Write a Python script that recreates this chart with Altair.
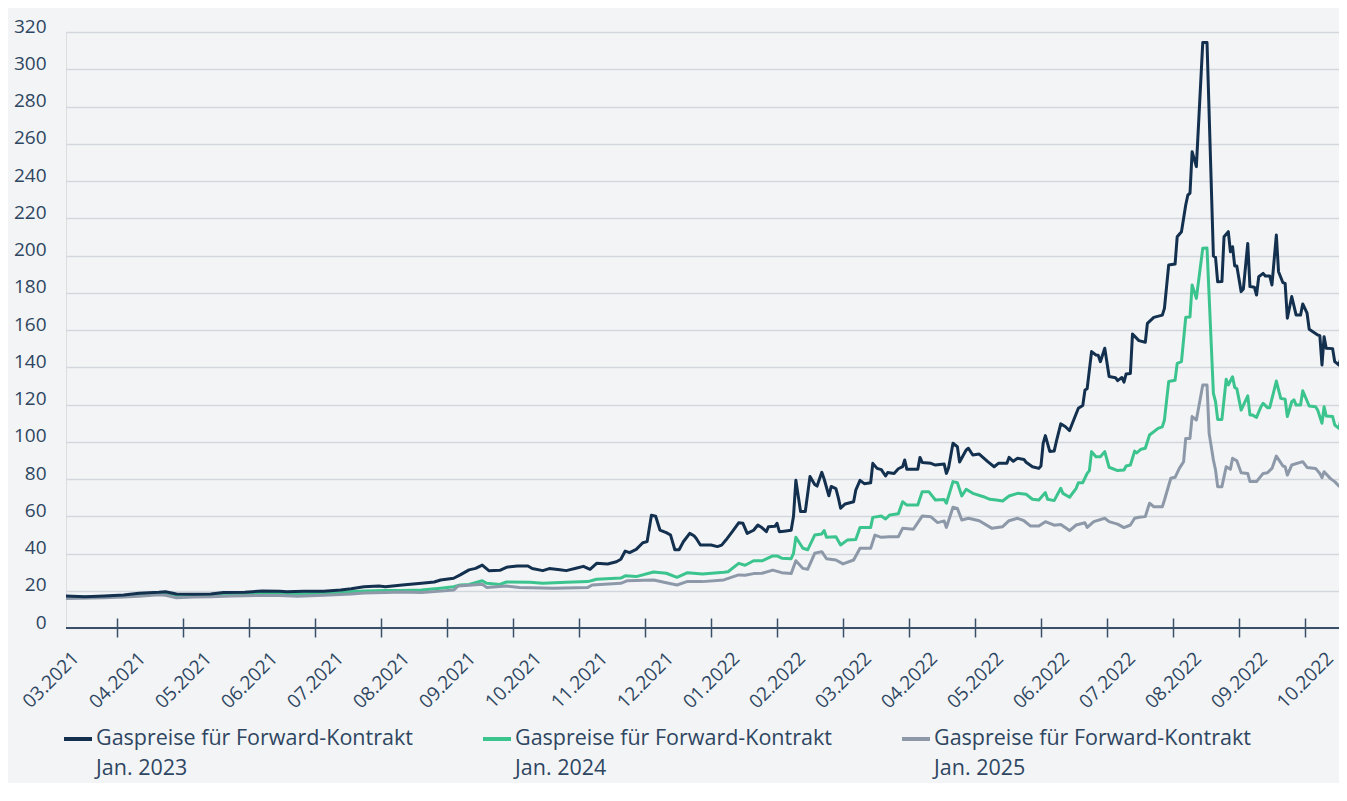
import altair as alt
import pandas as pd

# ---------------- data ----------------
month_labels = ["03.2021", "04.2021", "05.2021", "06.2021", "07.2021", "08.2021",
                "09.2021", "10.2021", "11.2021", "12.2021", "01.2022", "02.2022",
                "03.2022", "04.2022", "05.2022", "06.2022", "07.2022", "08.2022",
                "09.2022", "10.2022"]

series_names = ["Gaspreise für Forward-Kontrakt\nJan. 2023",
                "Gaspreise für Forward-Kontrakt\nJan. 2024",
                "Gaspreise für Forward-Kontrakt\nJan. 2025"]
series_colors = ["#13304f", "#3cc48e", "#8d99a9"]

y_ticks = list(range(0, 321, 20))

dates_2023 = [
    "2021-03-08", "2021-03-17", "2021-03-26", "2021-04-04", "2021-04-11", "2021-04-20",
    "2021-04-23", "2021-04-28", "2021-05-06", "2021-05-14", "2021-05-20", "2021-05-30",
    "2021-06-07", "2021-06-15", "2021-06-18", "2021-06-26", "2021-07-05", "2021-07-13",
    "2021-07-18", "2021-07-24", "2021-07-31", "2021-08-03", "2021-08-11", "2021-08-20",
    "2021-08-26", "2021-08-29", "2021-09-04", "2021-09-07", "2021-09-11", "2021-09-14",
    "2021-09-17", "2021-09-20", "2021-09-25", "2021-09-28", "2021-10-03", "2021-10-08",
    "2021-10-10", "2021-10-15", "2021-10-18", "2021-10-23", "2021-10-26", "2021-10-31",
    "2021-11-03", "2021-11-06", "2021-11-09", "2021-11-14", "2021-11-18", "2021-11-20",
    "2021-11-22", "2021-11-24", "2021-11-27", "2021-11-30", "2021-12-02", "2021-12-04",
    "2021-12-06", "2021-12-08", "2021-12-11", "2021-12-13", "2021-12-15", "2021-12-17",
    "2021-12-19", "2021-12-22", "2021-12-24", "2021-12-25", "2021-12-27", "2022-01-01",
    "2022-01-04", "2022-01-06", "2022-01-08", "2022-01-11", "2022-01-14", "2022-01-16",
    "2022-01-18", "2022-01-21", "2022-01-23", "2022-01-25", "2022-01-27", "2022-01-28",
    "2022-01-31", "2022-02-01", "2022-02-02", "2022-02-04", "2022-02-07", "2022-02-08",
    "2022-02-09", "2022-02-11", "2022-02-13", "2022-02-15", "2022-02-17", "2022-02-18",
    "2022-02-20", "2022-02-21", "2022-02-23", "2022-02-24", "2022-02-26", "2022-02-27",
    "2022-02-28", "2022-03-02", "2022-03-06", "2022-03-07", "2022-03-09", "2022-03-11",
    "2022-03-14", "2022-03-15", "2022-03-17", "2022-03-19", "2022-03-21", "2022-03-22",
    "2022-03-25", "2022-03-27", "2022-03-29", "2022-03-30", "2022-03-31", "2022-04-05",
    "2022-04-06", "2022-04-07", "2022-04-11", "2022-04-13", "2022-04-17", "2022-04-18",
    "2022-04-19", "2022-04-21", "2022-04-23", "2022-04-24", "2022-04-27", "2022-04-28",
    "2022-04-30", "2022-05-03", "2022-05-07", "2022-05-10", "2022-05-12", "2022-05-16",
    "2022-05-17", "2022-05-19", "2022-05-21", "2022-05-24", "2022-05-25", "2022-05-28",
    "2022-05-31", "2022-06-01", "2022-06-02", "2022-06-03", "2022-06-05", "2022-06-07",
    "2022-06-08", "2022-06-10", "2022-06-12", "2022-06-14", "2022-06-16", "2022-06-18",
    "2022-06-20", "2022-06-21", "2022-06-22", "2022-06-24", "2022-06-26", "2022-06-27",
    "2022-06-28", "2022-06-30", "2022-07-02", "2022-07-05", "2022-07-06", "2022-07-08",
    "2022-07-09", "2022-07-10", "2022-07-12", "2022-07-13", "2022-07-16", "2022-07-19",
    "2022-07-20", "2022-07-23", "2022-07-27", "2022-07-28", "2022-07-30", "2022-08-02",
    "2022-08-03", "2022-08-05", "2022-08-07", "2022-08-08", "2022-08-09", "2022-08-10",
    "2022-08-12", "2022-08-15", "2022-08-17", "2022-08-20", "2022-08-21", "2022-08-22",
    "2022-08-24", "2022-08-25", "2022-08-27", "2022-08-28", "2022-08-29", "2022-08-30",
    "2022-08-31", "2022-09-02", "2022-09-03", "2022-09-05", "2022-09-06", "2022-09-08",
    "2022-09-09", "2022-09-10", "2022-09-12", "2022-09-13", "2022-09-15", "2022-09-16",
    "2022-09-18", "2022-09-19", "2022-09-21", "2022-09-22", "2022-09-23", "2022-09-25",
    "2022-09-27", "2022-09-29", "2022-09-30", "2022-10-02", "2022-10-03", "2022-10-07",
    "2022-10-08", "2022-10-09", "2022-10-10", "2022-10-11", "2022-10-14", "2022-10-15",
    "2022-10-17", "2022-10-18", "2022-10-21"]
values_2023 = [
    17.2, 16.8, 17.2, 17.7, 18.7, 19.2, 19.5, 18.3, 18.1, 18.3, 19.0, 19.2,
    19.9, 19.7, 19.4, 19.7, 19.7, 20.4, 21.1, 22.2, 22.5, 22.2, 23.1, 24.0,
    24.7, 25.8, 26.7, 28.5, 31.2, 32.0, 33.8, 30.8, 31.0, 32.6, 33.3, 33.3,
    31.9, 30.8, 31.9, 31.3, 30.8, 32.2, 33.1, 31.5, 34.7, 34.4, 35.6, 36.9,
    41.3, 40.5, 42.2, 45.8, 46.4, 60.5, 60.0, 52.6, 51.2, 49.9, 42.0, 42.0,
    46.3, 50.8, 49.5, 48.2, 44.6, 44.6, 43.7, 44.5, 47.2, 51.7, 56.5, 56.2,
    50.8, 52.5, 55.3, 53.8, 51.7, 54.4, 54.6, 56.2, 51.7, 52.0, 52.5, 60.0,
    79.3, 62.5, 62.5, 81.4, 77.0, 76.2, 83.6, 80.0, 71.0, 76.0, 74.8, 70.0,
    64.3, 66.6, 67.8, 74.0, 79.3, 77.5, 78.0, 88.4, 85.7, 85.0, 81.6, 83.5,
    83.0, 85.5, 86.6, 90.2, 85.2, 85.2, 91.6, 88.9, 88.4, 87.5, 88.0, 83.0,
    86.0, 99.2, 97.3, 89.1, 95.6, 96.5, 92.9, 93.4, 89.3, 86.6, 88.4, 88.4,
    91.6, 89.5, 91.1, 90.5, 89.0, 86.6, 85.7, 87.0, 99.2, 103.3, 94.8, 95.0,
    100.2, 109.6, 108.2, 106.0, 112.1, 118.0, 119.5, 127.8, 128.5, 148.4, 146.6, 146.5,
    143.0, 150.2, 135.0, 134.4, 132.8, 134.5, 132.0, 136.4, 136.7, 157.9, 154.3, 153.4,
    163.6, 166.8, 168.0, 171.6, 194.9, 195.4, 210.1, 212.8, 227.1, 232.5, 233.4, 255.7,
    247.7, 314.3, 314.3, 199.7, 199.0, 185.9, 186.0, 210.1, 212.8, 202.0, 204.7, 194.4,
    194.4, 180.6, 182.0, 206.5, 183.3, 183.0, 178.8, 188.6, 190.4, 189.0, 189.0, 184.2,
    211.0, 191.3, 185.4, 185.0, 166.3, 178.0, 168.0, 168.0, 174.0, 169.0, 160.4, 157.3,
    157.0, 141.2, 156.4, 150.2, 150.0, 143.0, 141.2, 145.7, 145.7]

dates_2024 = [
    "2021-03-08", "2021-03-17", "2021-03-26", "2021-04-04", "2021-04-11", "2021-04-20",
    "2021-04-23", "2021-04-28", "2021-05-06", "2021-05-14", "2021-05-20", "2021-05-30",
    "2021-06-07", "2021-06-15", "2021-06-23", "2021-07-05", "2021-07-13", "2021-07-18",
    "2021-07-24", "2021-08-03", "2021-08-11", "2021-08-20", "2021-08-29", "2021-09-04",
    "2021-09-07", "2021-09-11", "2021-09-17", "2021-09-19", "2021-09-25", "2021-09-28",
    "2021-10-09", "2021-10-15", "2021-10-26", "2021-11-05", "2021-11-09", "2021-11-20",
    "2021-11-22", "2021-11-27", "2021-12-05", "2021-12-11", "2021-12-16", "2021-12-21",
    "2021-12-28", "2022-01-07", "2022-01-09", "2022-01-14", "2022-01-17", "2022-01-21",
    "2022-01-25", "2022-01-30", "2022-02-01", "2022-02-03", "2022-02-07", "2022-02-08",
    "2022-02-09", "2022-02-12", "2022-02-14", "2022-02-17", "2022-02-20", "2022-02-21",
    "2022-02-22", "2022-02-26", "2022-02-28", "2022-03-03", "2022-03-07", "2022-03-09",
    "2022-03-14", "2022-03-15", "2022-03-19", "2022-03-21", "2022-03-23", "2022-03-27",
    "2022-03-29", "2022-03-31", "2022-04-05", "2022-04-07", "2022-04-10", "2022-04-13",
    "2022-04-17", "2022-04-18", "2022-04-21", "2022-04-23", "2022-04-25", "2022-04-27",
    "2022-04-30", "2022-05-05", "2022-05-08", "2022-05-11", "2022-05-14", "2022-05-17",
    "2022-05-21", "2022-05-25", "2022-05-28", "2022-05-31", "2022-06-03", "2022-06-04",
    "2022-06-07", "2022-06-10", "2022-06-11", "2022-06-14", "2022-06-17", "2022-06-18",
    "2022-06-20", "2022-06-22", "2022-06-23", "2022-06-24", "2022-06-26", "2022-06-28",
    "2022-06-30", "2022-07-02", "2022-07-06", "2022-07-09", "2022-07-10", "2022-07-12",
    "2022-07-14", "2022-07-15", "2022-07-17", "2022-07-19", "2022-07-21", "2022-07-25",
    "2022-07-27", "2022-07-28", "2022-07-30", "2022-08-02", "2022-08-03", "2022-08-05",
    "2022-08-07", "2022-08-09", "2022-08-10", "2022-08-12", "2022-08-15", "2022-08-17",
    "2022-08-20", "2022-08-21", "2022-08-22", "2022-08-24", "2022-08-26", "2022-08-27",
    "2022-08-29", "2022-08-30", "2022-08-31", "2022-09-02", "2022-09-05", "2022-09-06",
    "2022-09-07", "2022-09-09", "2022-09-11", "2022-09-12", "2022-09-14", "2022-09-15",
    "2022-09-18", "2022-09-20", "2022-09-22", "2022-09-23", "2022-09-25", "2022-09-26",
    "2022-09-27", "2022-09-29", "2022-09-30", "2022-10-03", "2022-10-06", "2022-10-07",
    "2022-10-09", "2022-10-10", "2022-10-11", "2022-10-14", "2022-10-15", "2022-10-17",
    "2022-10-18", "2022-10-21"]
values_2024 = [
    16.5, 16.6, 16.9, 17.2, 17.8, 18.7, 18.5, 17.5, 17.6, 17.7, 18.0, 18.3,
    18.7, 18.5, 18.3, 18.6, 19.0, 19.5, 19.8, 20.1, 20.2, 20.4, 21.4, 22.2,
    23.1, 23.4, 25.4, 24.0, 23.4, 24.7, 24.5, 24.0, 24.5, 24.9, 26.2, 26.8,
    28.0, 27.6, 30.1, 29.4, 27.2, 29.7, 29.0, 29.9, 30.2, 34.7, 33.7, 36.1,
    36.1, 38.7, 38.7, 37.5, 37.2, 40.1, 48.7, 42.8, 42.0, 49.9, 50.5, 52.3,
    48.7, 49.0, 44.6, 47.2, 47.5, 54.0, 54.0, 59.4, 60.1, 58.5, 60.7, 61.3,
    67.8, 66.0, 66.0, 73.2, 73.2, 68.7, 69.0, 67.0, 78.6, 78.0, 70.9, 74.5,
    72.3, 70.5, 69.1, 68.7, 68.2, 70.9, 72.3, 71.8, 69.1, 68.7, 72.7, 69.1,
    68.4, 75.0, 72.3, 70.2, 75.0, 78.0, 78.0, 83.0, 84.5, 94.7, 92.0, 92.0,
    94.7, 86.3, 84.5, 84.8, 87.0, 87.5, 95.0, 94.0, 96.0, 96.5, 103.6, 107.2,
    108.0, 111.7, 132.3, 133.0, 142.1, 143.0, 166.8, 167.0, 184.2, 177.0, 203.9, 204.0,
    126.0, 121.5, 112.0, 112.0, 133.5, 130.5, 134.9, 129.2, 128.5, 117.0, 124.6, 114.4,
    114.4, 113.1, 118.8, 120.6, 118.3, 118.3, 132.6, 123.3, 122.8, 113.5, 121.5, 122.5,
    119.7, 119.7, 127.4, 119.2, 118.8, 117.0, 109.9, 118.8, 113.8, 113.5, 109.0, 107.2,
    112.6, 112.6]

dates_2025 = [
    "2021-03-08", "2021-03-26", "2021-04-04", "2021-04-11", "2021-04-20", "2021-04-23",
    "2021-04-28", "2021-05-06", "2021-05-14", "2021-05-24", "2021-06-07", "2021-06-15",
    "2021-06-23", "2021-07-05", "2021-07-18", "2021-07-24", "2021-08-03", "2021-08-11",
    "2021-08-20", "2021-08-29", "2021-09-04", "2021-09-06", "2021-09-11", "2021-09-17",
    "2021-09-19", "2021-09-28", "2021-10-04", "2021-10-20", "2021-11-05", "2021-11-07",
    "2021-11-20", "2021-11-23", "2021-12-05", "2021-12-11", "2021-12-16", "2021-12-21",
    "2021-12-28", "2022-01-07", "2022-01-14", "2022-01-17", "2022-01-21", "2022-01-25",
    "2022-01-30", "2022-02-03", "2022-02-07", "2022-02-09", "2022-02-12", "2022-02-14",
    "2022-02-17", "2022-02-20", "2022-02-22", "2022-02-26", "2022-03-01", "2022-03-06",
    "2022-03-09", "2022-03-14", "2022-03-16", "2022-03-19", "2022-03-23", "2022-03-27",
    "2022-03-29", "2022-04-03", "2022-04-07", "2022-04-11", "2022-04-14", "2022-04-17",
    "2022-04-18", "2022-04-21", "2022-04-23", "2022-04-25", "2022-04-28", "2022-05-03",
    "2022-05-09", "2022-05-14", "2022-05-17", "2022-05-21", "2022-05-24", "2022-05-27",
    "2022-05-31", "2022-06-03", "2022-06-07", "2022-06-10", "2022-06-14", "2022-06-17",
    "2022-06-21", "2022-06-22", "2022-06-25", "2022-06-30", "2022-07-02", "2022-07-06",
    "2022-07-09", "2022-07-12", "2022-07-14", "2022-07-16", "2022-07-19", "2022-07-21",
    "2022-07-23", "2022-07-27", "2022-07-28", "2022-07-31", "2022-08-02", "2022-08-04",
    "2022-08-06", "2022-08-07", "2022-08-09", "2022-08-10", "2022-08-12", "2022-08-15",
    "2022-08-17", "2022-08-18", "2022-08-20", "2022-08-21", "2022-08-22", "2022-08-24",
    "2022-08-26", "2022-08-28", "2022-08-29", "2022-08-31", "2022-09-02", "2022-09-05",
    "2022-09-06", "2022-09-09", "2022-09-12", "2022-09-14", "2022-09-16", "2022-09-18",
    "2022-09-21", "2022-09-22", "2022-09-23", "2022-09-25", "2022-09-30", "2022-10-02",
    "2022-10-06", "2022-10-08", "2022-10-09", "2022-10-10", "2022-10-13", "2022-10-15",
    "2022-10-17", "2022-10-19", "2022-10-21"]
values_2025 = [
    15.9, 16.2, 16.6, 17.0, 17.8, 17.6, 16.2, 16.6, 16.8, 17.2, 17.5, 17.4,
    17.0, 17.6, 18.2, 18.8, 19.0, 19.3, 19.0, 19.8, 20.4, 22.5, 23.0, 23.5,
    21.8, 22.5, 21.8, 21.3, 21.8, 23.1, 24.0, 25.4, 25.8, 24.3, 23.1, 25.0,
    24.9, 25.8, 28.5, 28.3, 29.2, 29.4, 31.1, 29.7, 29.2, 36.1, 32.0, 31.5,
    40.1, 41.0, 37.2, 36.5, 34.4, 36.5, 42.8, 42.8, 49.9, 48.7, 49.0, 49.0,
    53.5, 53.0, 60.1, 59.7, 56.6, 57.5, 54.0, 64.8, 64.2, 58.0, 58.9, 57.6,
    53.5, 54.4, 57.6, 58.9, 57.6, 54.8, 54.8, 57.1, 55.2, 55.6, 52.3, 55.3,
    56.5, 54.0, 57.1, 58.9, 57.1, 55.8, 53.9, 55.3, 58.9, 59.5, 59.8, 67.0,
    65.1, 65.1, 68.7, 80.4, 80.9, 85.7, 89.3, 101.8, 101.8, 113.5, 111.7, 130.5,
    130.5, 104.5, 90.2, 84.8, 75.9, 75.9, 86.6, 85.2, 91.1, 89.8, 83.4, 83.0,
    78.6, 78.6, 83.0, 83.4, 85.7, 92.3, 87.0, 86.6, 82.1, 87.5, 89.3, 86.2,
    85.7, 83.0, 80.7, 83.9, 80.2, 78.6, 76.2, 79.5, 79.5]

x_start, x_end = "2021-03-08", "2022-10-17"


# ------------- helpers -------------
def month_pos(d):
    """Position of a date in months after the start of March 2021."""
    t = pd.Timestamp(d)
    return (t.year - 2021) * 12 + (t.month - 3) + (t.day - 1) / t.days_in_month


rows = []
# draw order: 2024, 2025, then 2023 on top
for name, ds, vs in [(series_names[1], dates_2024, values_2024),
                     (series_names[2], dates_2025, values_2025),
                     (series_names[0], dates_2023, values_2023)]:
    for d, v in zip(ds, vs):
        rows.append({"Reihe": name, "Monat": month_pos(d), "Preis": v})
df = pd.DataFrame(rows)

first_label_df = pd.DataFrame({"Monat": [0], "Label": [month_labels[0]]})

# ------------- styling -------------
FONT = "Open Sans"
TEXT = "#2e4661"
AXIS = "#3b5068"
GRID = "#d2d7dd"
BG = "#f3f4f6"
W, H = 1273, 596

x_scale = alt.Scale(domain=[month_pos(x_start), month_pos(x_end)], nice=False, zero=False)
y_scale = alt.Scale(domain=[0, 320], nice=False, zero=True)

label_expr = "[" + ",".join("'%s'" % m for m in month_labels) + "][round(datum.value)]"

x_enc = alt.X(
    "Monat:Q", scale=x_scale,
    axis=alt.Axis(values=list(range(1, len(month_labels))), tickCount=len(month_labels),
                  labelExpr=label_expr,
                  labelAngle=-45, labelAlign="center", labelBaseline="middle",
                  labelPadding=43, tickSize=19, offset=-10, tickColor=AXIS, tickWidth=1.5,
                  domain=False, grid=False, labelFontSize=19, labelColor=TEXT,
                  labelFont=FONT, labelOverlap=False, labelFlush=False, title=None))

y_enc = alt.Y(
    "Preis:Q", scale=y_scale,
    axis=alt.Axis(values=y_ticks, tickCount=len(y_ticks), grid=True, gridColor=GRID,
                  gridWidth=1.5, domain=False, ticks=False, labelPadding=20,
                  labelFontSize=19, labelColor=TEXT, labelFont=FONT,
                  labelBaseline="alphabetic", labelOverlap=False, title=None))

lines = alt.Chart(df).mark_line(strokeWidth=3, clip=True, strokeJoin="round").encode(
    x=x_enc,
    y=y_enc,
    color=alt.Color(
        "Reihe:N",
        scale=alt.Scale(domain=series_names, range=series_colors),
        legend=alt.Legend(title=None, orient="none", legendX=-4, legendY=691,
                          direction="horizontal", columns=3, symbolType="stroke",
                          symbolStrokeWidth=4, symbolSize=784,
                          labelExpr="split(datum.label, '\\n')",
                          labelFontSize=21.5, labelColor=TEXT, labelFont=FONT,
                          labelLimit=600, columnPadding=62, labelOffset=2,
                          labelBaseline="middle"),
    ),
)

axis_line = alt.Chart(df).mark_rule(color=AXIS, strokeWidth=1.5).encode(y=alt.datum(0))

first_label = alt.Chart(first_label_df).mark_text(
    angle=315, align="center", baseline="middle", fontSize=19,
    font=FONT, color=TEXT
).encode(x=x_enc, y=alt.value(H + 52), text="Label:N")

chart = alt.layer(lines, axis_line, first_label).properties(
    width=W, height=H,
    autosize=alt.AutoSizeParams(type="none"),
    padding={"left": 58, "top": 24, "right": 0, "bottom": 155},
    background=BG,
).configure_view(stroke=None).configure(style={"guide-label": {"lineHeight": 29.5}})

chart.save("out.html", embed_options={"renderer": "svg", "actions": False})
